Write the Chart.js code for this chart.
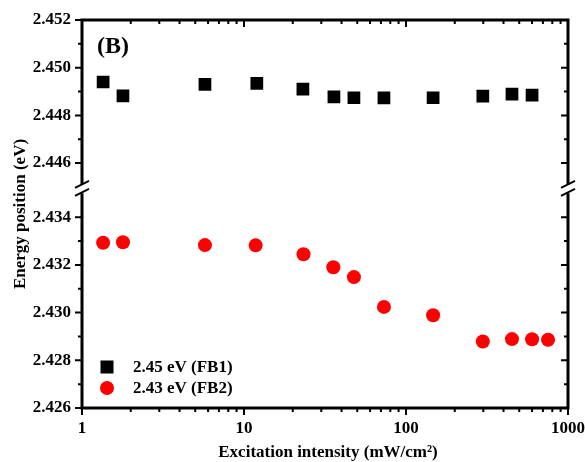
<!DOCTYPE html>
<html>
<head>
<meta charset="utf-8">
<script src="https://cdn.jsdelivr.net/npm/chart.js@4.4.1/dist/chart.umd.min.js"></script>
<style>
html, body { margin: 0; padding: 0; background: #fff; }
#wrap { width: 585px; height: 462px; position: relative; }
</style>
</head>
<body>
<div id="wrap"><canvas id="myChart"></canvas></div>
<script>
// excitation intensity (mW/cm2) and peak energy (eV)
const intensity_fb1 = [1.35, 1.79, 5.74, 12.0, 23.1, 35.9, 47.7, 73.1, 147, 298, 451, 600];
const energy_fb1 = [2.44940, 2.44882, 2.44930, 2.44934, 2.44910, 2.44878, 2.44874, 2.44873, 2.44874, 2.44881, 2.44889, 2.44885];
const intensity_fb2 = [1.35, 1.79, 5.74, 11.8, 23.3, 35.6, 47.7, 73.1, 147, 298, 451, 600, 753];
const energy_fb2 = [2.43293, 2.43295, 2.43283, 2.43282, 2.43245, 2.43190, 2.43149, 2.43024, 2.42989, 2.42879, 2.42889, 2.42888, 2.42886];
const series_labels = ['2.45 eV (FB1)', '2.43 eV (FB2)'];
const x_ticks = [1, 10, 100, 1000];
const y_ticks_high = [2.446, 2.448, 2.450, 2.452];
const y_ticks_low = [2.426, 2.428, 2.430, 2.432, 2.434];

const FONT = 'Liberation Serif, "Times New Roman", serif';

function toPoints(xs, ys) {
    return xs.map((v, i) => ({x: v, y: ys[i]}));
}

// frame, ticks, axis break, panel letter, axis titles and legend
const framePlugin = {
    id: 'frame',
    afterDraw(chart) {
        const ctx = chart.ctx;
        const a = chart.chartArea;
        const xs = chart.scales.x, hi = chart.scales.yHigh;
        const brk = hi.bottom;
        ctx.save();
        ctx.strokeStyle = '#000';
        ctx.lineCap = 'butt';

        // axis lines
        ctx.lineWidth = 3;
        ctx.beginPath();
        ctx.moveTo(a.left - 1.5, a.top); ctx.lineTo(a.right + 1.5, a.top);
        ctx.moveTo(a.left - 1.5, a.bottom); ctx.lineTo(a.right + 1.5, a.bottom);
        [a.left, a.right].forEach(x => {
            ctx.moveTo(x, a.top); ctx.lineTo(x, brk - 4);
            ctx.moveTo(x, brk + 5); ctx.lineTo(x, a.bottom);
        });
        ctx.stroke();

        // break marks
        ctx.lineWidth = 2;
        ctx.beginPath();
        [a.left, a.right].forEach(x => {
            [-4, 4].forEach(d => {
                ctx.moveTo(x - 7, brk + d + 3.5);
                ctx.lineTo(x + 7, brk + d - 3.5);
            });
        });
        ctx.stroke();

        // x ticks (log), outward at bottom, inward at top
        ctx.beginPath();
        for (let d = 1; d <= 1000; d *= 10) {
            for (let k = 1; k <= 9; k++) {
                const v = d * k;
                if (v > 1000) break;
                const px = xs.getPixelForValue(v);
                const len = k === 1 ? 7 : 4;
                ctx.moveTo(px, a.bottom); ctx.lineTo(px, a.bottom + len);
                ctx.moveTo(px, a.top); ctx.lineTo(px, a.top + len);
            }
        }
        // y ticks, outward on left, inward on right
        [chart.scales.yHigh, chart.scales.yLow].forEach(s => {
            const n0 = Math.ceil(s.min * 1000 - 1e-6), n1 = Math.floor(s.max * 1000 + 1e-6);
            for (let n = n0; n <= n1; n++) {
                const py = s.getPixelForValue(n / 1000);
                if (Math.abs(py - brk) < 7) continue;
                const len = n % 2 === 0 ? 7 : 4;
                ctx.moveTo(a.left, py); ctx.lineTo(a.left - len, py);
                ctx.moveTo(a.right, py); ctx.lineTo(a.right - len, py);
            }
        });
        ctx.stroke();

        ctx.fillStyle = '#000';
        // panel letter
        ctx.font = 'bold 24px ' + FONT;
        ctx.textAlign = 'left';
        ctx.textBaseline = 'alphabetic';
        ctx.fillText('(B)', a.left + 15, a.top + 33);

        // x title
        ctx.font = 'bold 17px ' + FONT;
        ctx.textAlign = 'center';
        ctx.fillText('Excitation intensity (mW/cm²)', (a.left + a.right) / 2 + 3, 457);

        // y title
        ctx.save();
        ctx.translate(25, (a.top + a.bottom) / 2);
        ctx.rotate(-Math.PI / 2);
        ctx.font = 'bold 17px ' + FONT;
        ctx.textAlign = 'center';
        ctx.fillText('Energy position (eV)', 0, 0);
        ctx.restore();

        // legend
        const lx = a.left + 25;
        const rows = [a.bottom - 41, a.bottom - 20];
        ctx.font = 'bold 17px ' + FONT;
        ctx.textAlign = 'left';
        ctx.textBaseline = 'middle';
        chart.data.datasets.forEach((ds, i) => {
            const y = rows[i];
            ctx.fillStyle = ds.backgroundColor;
            if (ds.pointStyle === 'rect') {
                ctx.fillRect(lx - 6.5, y - 6.5, 13, 13);
            } else {
                ctx.beginPath();
                ctx.arc(lx, y, 7, 0, Math.PI * 2);
                ctx.fill();
            }
            ctx.fillStyle = '#000';
            ctx.fillText(ds.label, lx + 26, y + 1);
        });
        ctx.restore();
    }
};

const tickFont = {family: FONT, size: 17, weight: 'bold'};

const config = {
    type: 'scatter',
    data: {
        datasets: [
            {
                label: series_labels[0],
                data: toPoints(intensity_fb1, energy_fb1),
                yAxisID: 'yHigh',
                pointStyle: 'rect',
                pointRadius: 9,
                pointHoverRadius: 9,
                backgroundColor: '#000000',
                borderWidth: 0
            },
            {
                label: series_labels[1],
                data: toPoints(intensity_fb2, energy_fb2),
                yAxisID: 'yLow',
                pointStyle: 'circle',
                pointRadius: 7,
                pointHoverRadius: 7,
                backgroundColor: '#ff0000',
                borderWidth: 0
            }
        ]
    },
    options: {
        responsive: true,
        maintainAspectRatio: false,
        animation: false,
        layout: {padding: {top: 20, right: 17, left: 0, bottom: 0}},
        plugins: {
            legend: {display: false},
            tooltip: {enabled: false}
        },
        scales: {
            x: {
                type: 'logarithmic',
                min: 1,
                max: 1000,
                grid: {display: false, drawTicks: false},
                border: {display: false},
                afterBuildTicks: s => { s.ticks = x_ticks.map(v => ({value: v})); },
                afterFit: s => { s.height = 54; s.paddingLeft = 0; s.paddingRight = 0; },
                ticks: {
                    autoSkip: false, maxRotation: 0, padding: 10, color: '#000', font: tickFont,
                    callback: v => String(v)
                }
            },
            yLow: {
                type: 'linear',
                position: 'left',
                stack: 'energy',
                stackWeight: 9.21,
                min: 2.426,
                max: 2.43521,
                grid: {display: false, drawTicks: false},
                border: {display: false},
                afterBuildTicks: s => { s.ticks = y_ticks_low.map(v => ({value: v})); },
                afterFit: s => { s.width = 82; s.paddingTop = 0; s.paddingBottom = 0; },
                ticks: {color: '#000', font: tickFont, padding: 11, callback: v => v.toFixed(3)}
            },
            yHigh: {
                type: 'linear',
                position: 'left',
                stack: 'energy',
                stackWeight: 7.06,
                min: 2.44494,
                max: 2.452,
                grid: {display: false, drawTicks: false},
                border: {display: false},
                afterBuildTicks: s => { s.ticks = y_ticks_high.map(v => ({value: v})); },
                afterFit: s => { s.width = 82; s.paddingTop = 0; s.paddingBottom = 0; },
                ticks: {color: '#000', font: tickFont, padding: 11, callback: v => v.toFixed(3)}
            }
        }
    },
    plugins: [framePlugin]
};

const myChart = new Chart(document.getElementById('myChart'), config);
</script>
</body>
</html>
